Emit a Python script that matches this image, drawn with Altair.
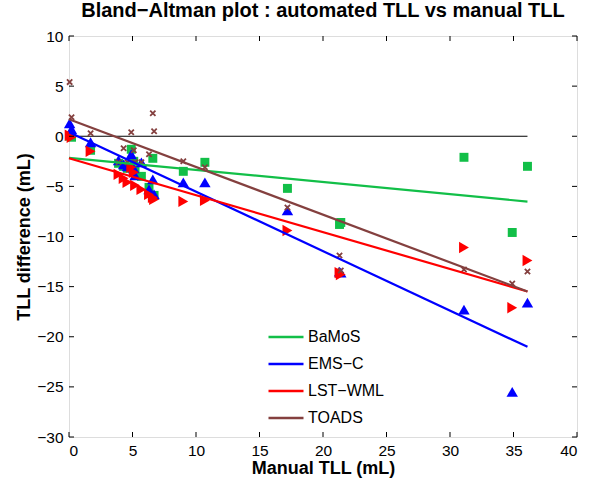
import altair as alt
import pandas as pd

# ---------------- data ----------------
manual_tll = [0.05, 0.2, 1.7, 3.9, 4.3, 4.6, 4.9, 5.1, 5.2, 5.7, 6.3, 6.6, 6.7,
              9.0, 10.7, 17.2, 21.3, 21.4, 31.1, 34.9, 36.1]
bamos_diff = [0.0, -0.1, -1.4, -2.7, -3.0, -3.2, -1.3, -2.5, -3.4, -4.0, -5.1, -2.2, -5.9,
              -3.5, -2.6, -5.2, -8.8, -8.6, -2.1, -9.6, -3.0]
emsc_diff = [1.3, 0.7, -0.6, -2.4, -2.8, -3.0, -1.8, -3.2, -3.9, -2.6, -5.3, -4.3, -5.8,
             -4.6, -4.6, -7.4, -13.5, -13.6, -17.3, -25.5, -16.6]
lstwml_diff = [0.1, -0.1, -1.5, -3.8, -4.2, -4.6, -3.1, -3.6, -4.9, -5.3, -5.8, -6.1, -6.3,
               -6.5, -6.4, -9.4, -13.6, -13.8, -11.1, -17.1, -12.4]
toads_diff = [5.4, 1.9, 0.3, -2.6, -1.2, -2.6, 0.4, -1.4, -2.6, -2.6, -1.8, 2.3, 0.5,
              -2.5, -3.1, -7.1, -11.9, -13.4, -13.3, -14.7, -13.5]

methods = ["BaMoS", "EMS\u2212C", "LST\u2212WML", "TOADS"]
colors = ["#12bf48", "#0000ff", "#ff0000", "#84403f"]
fit_intercept = [-2.15, 0.4, -2.2, 1.7]
fit_slope = [-0.121, -0.593, -0.368, -0.476]

x_ticks = [0, 5, 10, 15, 20, 25, 30, 35, 40]
y_ticks = [-30, -25, -20, -15, -10, -5, 0, 5, 10]

# ---------------- tables ----------------
diffs = [bamos_diff, emsc_diff, lstwml_diff, toads_diff]
pts = pd.DataFrame([
    {"manual": m, "diff": d, "method": meth}
    for meth, dl in zip(methods, diffs) for m, d in zip(manual_tll, dl)
])
x_min, x_max = 0.0, max(manual_tll)
fit = pd.DataFrame([
    {"manual": xv, "diff": b + a * xv, "method": meth}
    for meth, b, a in zip(methods, fit_intercept, fit_slope) for xv in (x_min, x_max)
])
zero = pd.DataFrame({"manual": [x_min], "manual2": [x_max], "diff": [0.0]})
xt = pd.DataFrame({"t": x_ticks})
yt = pd.DataFrame({"t": y_ticks})

W, H = 508, 401
FONT = "Liberation Sans"

xs = alt.Scale(domain=[0, 40], nice=False, zero=False)
ys = alt.Scale(domain=[-30, 10], nice=False, zero=False)

xaxis = alt.Axis(values=x_ticks, ticks=False, domain=False, grid=False, labelPadding=6,
                 labelFontSize=15.5, labelFont=FONT, labelColor="black", title="Manual TLL (mL)",
                 titleFont=FONT, titleFontSize=18, titleFontWeight="bold", titleColor="black",
                 titlePadding=1)
yaxis = alt.Axis(values=y_ticks, ticks=False, domain=False, grid=False, labelPadding=6,
                 labelFontSize=15.5, labelFont=FONT, labelColor="black",
                 title="TLL difference (mL)", titleFont=FONT, titleFontSize=18,
                 titleFontWeight="bold", titleColor="black", titlePadding=3)

base_pts = alt.Chart(pts)

shape_map = {methods[0]: "square", methods[1]: "triangle-up", methods[2]: "triangle-right"}
size_map = {methods[0]: 80, methods[1]: 130, methods[2]: 130}
layers = []

zero_line = alt.Chart(zero).mark_rule(color="black", strokeWidth=1.2).encode(
    x=alt.X("manual:Q", scale=xs, axis=xaxis),
    x2="manual2:Q",
    y=alt.Y("diff:Q", scale=ys, axis=yaxis),
)
layers.append(zero_line)

for meth, col in zip(methods[:3], colors[:3]):
    layers.append(
        base_pts.transform_filter(alt.datum.method == meth).mark_point(
            shape=shape_map[meth], filled=True, opacity=1, size=size_map[meth], color=col
        ).encode(x=alt.X("manual:Q", scale=xs), y=alt.Y("diff:Q", scale=ys))
    )
layers.append(
    base_pts.transform_filter(alt.datum.method == methods[3]).mark_point(
        shape="M-1,-1L1,1M-1,1L1,-1", filled=False, opacity=1, size=28,
        color=colors[3], strokeWidth=1.8
    ).encode(x=alt.X("manual:Q", scale=xs), y=alt.Y("diff:Q", scale=ys))
)

lines = alt.Chart(fit).mark_line(strokeWidth=2.2).encode(
    x=alt.X("manual:Q", scale=xs),
    y=alt.Y("diff:Q", scale=ys),
    color=alt.Color("method:N", scale=alt.Scale(domain=methods, range=colors),
                    legend=alt.Legend(title=None, orient="none", legendX=196, legendY=280,
                                      symbolType="stroke", symbolSize=1225, symbolStrokeWidth=2.5,
                                      labelFont=FONT, labelFontSize=16, labelColor="black",
                                      labelOffset=3, rowPadding=-13, fillColor="white",
                                      padding=2)),
)
layers.append(lines)

# inward ticks on all four sides
layers.append(alt.Chart(xt).mark_rule(color="black").encode(
    x=alt.X("t:Q", scale=xs), y=alt.value(H), y2=alt.value(H - 5)))
layers.append(alt.Chart(xt).mark_rule(color="black").encode(
    x=alt.X("t:Q", scale=xs), y=alt.value(0), y2=alt.value(5)))
layers.append(alt.Chart(yt).mark_rule(color="black").encode(
    y=alt.Y("t:Q", scale=ys), x=alt.value(0), x2=alt.value(5)))
layers.append(alt.Chart(yt).mark_rule(color="black").encode(
    y=alt.Y("t:Q", scale=ys), x=alt.value(W), x2=alt.value(W - 5)))

chart = alt.layer(*layers).properties(
    width=W, height=H,
    title=alt.Title("Bland\u2212Altman plot : automated TLL vs manual TLL", font=FONT,
                    fontSize=20, fontWeight="bold", color="black", anchor="middle", offset=8),
    autosize=alt.AutoSizeParams(type="none"),
    padding={"left": 69, "top": 36, "right": 16, "bottom": 44},
).configure_view(stroke="black", strokeWidth=1.2).configure(background="white")

chart.save("out.html", embed_options={"renderer": "svg", "actions": False})
